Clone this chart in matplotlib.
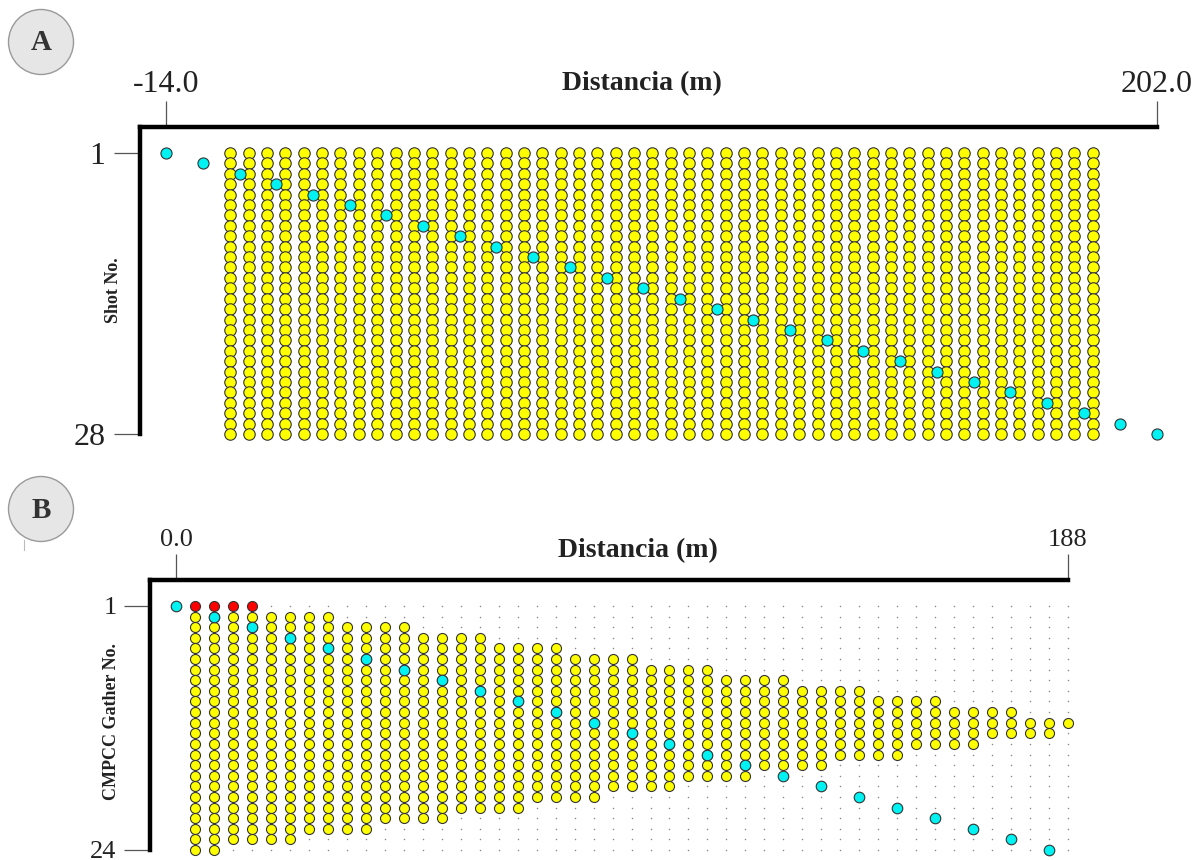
import numpy as np
import matplotlib
matplotlib.use("Agg")
import matplotlib.pyplot as plt
from matplotlib.patches import Circle

plt.rcParams["font.family"] = ["Liberation Serif", "DejaVu Serif"]

# --- panel A: shots vs geophones ---
geo_x_a = [0, 4, 8, 12, 16, 20, 24, 28, 32, 36, 40, 44, 48, 52, 56, 60,
           64, 68, 72, 76, 80, 84, 88, 92, 96, 100, 104, 108, 112, 116, 120,
           124, 128, 132, 136, 140, 144, 148, 152, 156, 160, 164, 168, 172,
           176, 180, 184, 188]
shot_no = list(range(1, 29))
shot_x = [-14, -6, 2, 10, 18, 26, 34, 42, 50, 58, 66, 74, 82, 90, 98, 106,
          114, 122, 130, 138, 146, 154, 162, 170, 178, 186, 194, 202]

# --- panel B: CMPCC gathers ---
cmp_x = [4, 8, 12, 16, 20, 24, 28, 32, 36, 40, 44, 48, 52, 56, 60, 64, 68,
         72, 76, 80, 84, 88, 92, 96, 100, 104, 108, 112, 116, 120, 124, 128,
         132, 136, 140, 144, 148, 152, 156, 160, 164, 168, 172, 176, 180,
         184, 188]
top_row = [2, 2, 2, 2, 2, 2, 2, 2, 3, 3, 3, 3, 4, 4, 4, 4, 5, 5, 5, 5,
           6, 6, 6, 6, 7, 7, 7, 7, 8, 8, 8, 8, 9, 9, 9, 9, 10, 10, 10, 10,
           11, 11, 11, 11, 12, 12, 12]
bottom_row = [24, 24, 23, 23, 23, 23, 22, 22, 22, 22, 21, 21, 21, 21,
              20, 20, 20, 20, 19, 19, 19, 19, 18, 18, 18, 18, 17, 17, 17, 17,
              16, 16, 16, 16, 15, 15, 15, 15, 14, 14, 14, 14, 13, 13, 13, 13,
              12]
gather_no = list(range(1, 25))
src_x_b = [0, 8, 16, 24, 32, 40, 48, 56, 64, 72, 80, 88, 96, 104, 112, 120,
           128, 136, 144, 152, 160, 168, 176, 184]
red_x = [4, 8, 12, 16]
red_row = [1, 1, 1, 1]

YEL = "#ffff00"
CYN = "#00f2f2"
RED = "#ff0000"
EDGE = "#333333"

fig = plt.figure(figsize=(12.01, 8.6), dpi=100)
W, H = 1201, 860


def px_axes(l, t, r, b):
    return fig.add_axes([l / W, 1 - b / H, (r - l) / W, (b - t) / H])


def style(ax, size, xpad, ypad):
    for s in ("right", "bottom"):
        ax.spines[s].set_visible(False)
    for s in ("left", "top"):
        ax.spines[s].set_linewidth(3.2)
        ax.spines[s].set_capstyle("projecting")
    ax.xaxis.tick_top()
    ax.tick_params(axis="both", direction="out", length=19, width=0.9,
                   color="#555555", labelsize=size, labelcolor="#222222")
    ax.tick_params(axis="x", pad=xpad)
    ax.tick_params(axis="y", pad=ypad)


# panel A
axA = px_axes(140, 127, 1157, 434)
gx, gy = np.meshgrid(geo_x_a, shot_no)
axA.scatter(gx.ravel(), gy.ravel(), s=68, c=YEL, edgecolors=EDGE,
            linewidths=0.8, zorder=2, clip_on=False)
axA.scatter(shot_x, shot_no, s=64, c=CYN, edgecolors=EDGE,
            linewidths=0.8, zorder=3, clip_on=False)
axA.set_xlim(-19.7, 202)
axA.set_ylim(28, -1.5)
axA.set_xticks([-14, 202], ["-14.0", "202.0"])
axA.set_yticks([1, 28], ["1", "28"])
style(axA, 23, 1, 6)
fig.text(642 / W, 1 - 84 / H, "Distancia (m)", fontsize=20,
         fontweight="bold", ha="center", va="center", color="#222222")
fig.text(113 / W, 1 - 290 / H, "Shot No.", fontsize=13, fontweight="bold",
         rotation=90, ha="center", va="center", color="#222222")

# panel B
axB = px_axes(150, 580, 1068, 850)
dx, dy = np.meshgrid(cmp_x, gather_no)
axB.scatter(dx.ravel(), dy.ravel(), s=1.2, c="#8a8a8a", linewidths=0,
            zorder=1, clip_on=False)
yx, yy = [], []
for x, t, b in zip(cmp_x, top_row, bottom_row):
    for r in range(t, b + 1):
        yx.append(x)
        yy.append(r)
axB.scatter(yx, yy, s=52, c=YEL, edgecolors=EDGE, linewidths=0.8,
            zorder=2, clip_on=False)
axB.scatter(red_x, red_row, s=52, c=RED, edgecolors=EDGE, linewidths=0.8,
            zorder=3, clip_on=False)
axB.scatter(src_x_b, gather_no, s=58, c=CYN, edgecolors=EDGE,
            linewidths=0.8, zorder=3, clip_on=False)
axB.set_xlim(-5.5, 188)
axB.set_ylim(24, -1.45)
axB.set_xticks([0, 188], ["0.0", "188"])
axB.set_yticks([1, 24], ["1", "24"])
style(axB, 19, 2, 5)
fig.text(638 / W, 1 - 551 / H, "Distancia (m)", fontsize=20,
         fontweight="bold", ha="center", va="center", color="#222222")
fig.text(112 / W, 1 - 722 / H, "CMPCC Gather No.", fontsize=13,
         fontweight="bold", rotation=90, ha="center", va="center",
         color="#222222")

# panel badges
ov = fig.add_axes([0, 0, 1, 1], zorder=-1)
ov.set_xlim(0, W)
ov.set_ylim(H, 0)
ov.axis("off")
for cx, cy, lab in [(41, 42, "A"), (41, 509, "B")]:
    ov.add_patch(Circle((cx, cy), 32.5, facecolor="#e6e6e6",
                        edgecolor="#9a9a9a", linewidth=1.0))
    ov.text(cx, cy + 1, lab, fontsize=21, fontweight="bold", ha="center",
            va="center", color="#333333")
ov.plot([24, 24], [540, 550], color="#bbbbbb", linewidth=0.8)

fig.savefig("out.png", dpi=100)
